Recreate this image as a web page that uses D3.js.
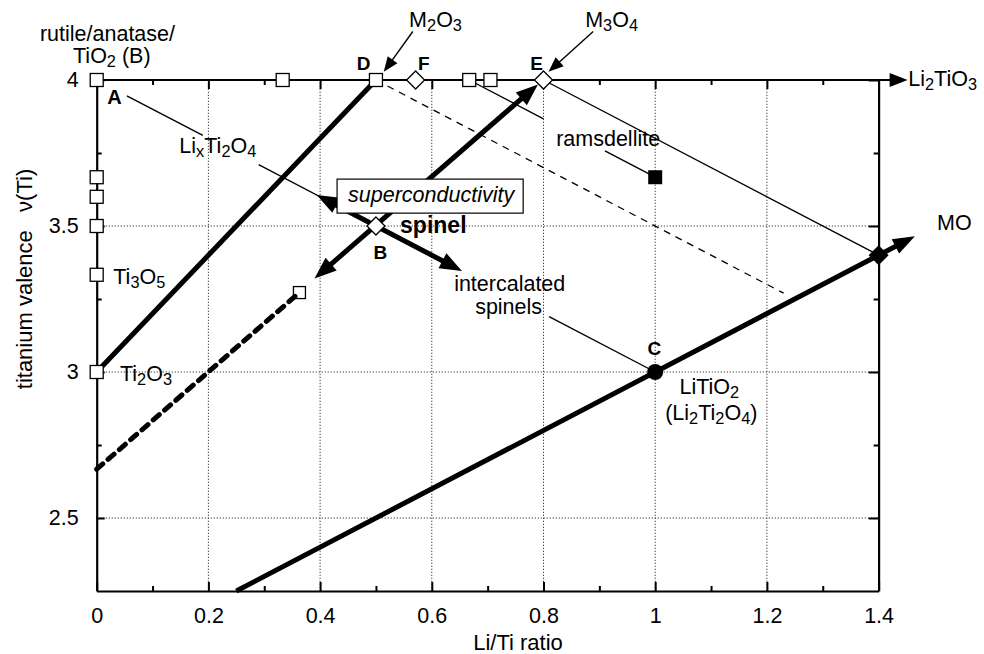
<!DOCTYPE html>
<html><head><meta charset="utf-8">
<script src="https://cdn.jsdelivr.net/npm/d3@7"></script>
<style>body{margin:0;background:#fff} svg text{font-family:"Liberation Sans",Arial,Helvetica,sans-serif;fill:#000}</style>
</head><body><svg id="c" width="984" height="654"></svg>
<script>
// ---------- data ----------
const xTickValues = [0, 0.2, 0.4, 0.6, 0.8, 1, 1.2, 1.4];
const xTickLabels = ["0", "0.2", "0.4", "0.6", "0.8", "1", "1.2", "1.4"];
const xMinorTicks = [0.1, 0.3, 0.5, 0.7, 0.9, 1.1, 1.3];
const yTickValues = [2.5, 3, 3.5, 4];
const yTickLabels = ["2.5", "3", "3.5", "4"];
const yMinorTicks = [2.75, 3.25, 3.75];
const xGrid = [0.2, 0.4, 0.6, 0.8, 1, 1.2];
const yGrid = [2.5, 3, 3.5];

const openSquares = [[0,4],[0,3.667],[0,3.6],[0,3.5],[0,3.333],[0,3],[0.333,4],[0.5,4],[0.667,4],[0.705,4]];
const dottedSquare = [[0.363,3.272]];
const openDiamonds = [[0.571,4],[0.8,4],[0.5,3.5]];
const filledSquares = [[1,3.667]];
const filledDiamonds = [[1.4,3.4]];
const filledCircles = [[1,3]];

const thickLines = [[[0,3],[0.5,4]]];
const thickDashed = [[[0,2.667],[0.363,3.272]]];
const thinLines = [
  [[0.054,3.946],[0.19,3.81]], [[0.29,3.71],[0.5,3.5]],
  [[0.81,3.19],[1,3]], [[0.8,4],[1.4,3.4]],
  [[0.667,4],[0.80,3.867]], [[0.91,3.757],[1,3.667]]
];
const thinDashed = [[[0.5,4],[1.23,3.27]]];
const doubleArrows = [[[0.39,3.32],[0.79,3.985]], [[0.394,3.606],[0.654,3.346]]];
const thickArrows = [[[0.25,2.25],[1.465,3.465]]];
const topLine = [[0,4],[1.452,4]];
const pointerArrows = [[[0.566,4.166],[0.514,4.028]], [[0.889,4.166],[0.809,4.028]]];

// ---------- setup ----------
const svg = d3.select("#c");
const x = d3.scaleLinear([0, 1.4], [96.7, 878.6]);
const y = d3.scaleLinear([2.25, 4], [591, 80]);
const FONT = 21.5;

// grid
const grid = svg.append("g").attr("stroke", "#444").attr("stroke-width", 1).attr("stroke-dasharray", "1.3,1.7");
grid.selectAll(".gx").data(xGrid).join("line")
  .attr("x1", d => x(d)).attr("x2", d => x(d)).attr("y1", y(2.25)).attr("y2", y(4));
grid.selectAll(".gy").data(yGrid).join("line")
  .attr("y1", d => y(d)).attr("y2", d => y(d)).attr("x1", x(0)).attr("x2", x(1.4));

// axes
function styleAxis(g) {
  g.selectAll("path.domain").attr("stroke-width", 2.2);
  g.selectAll(".tick line").attr("stroke-width", 2);
  g.selectAll("text").attr("font-size", FONT).attr("font-family", '"Liberation Sans",Arial,sans-serif');
}
const gB = svg.append("g").attr("transform", `translate(0,${y(2.25)})`)
  .call(d3.axisBottom(x).tickValues(xTickValues).tickFormat((d, i) => xTickLabels[i])
    .tickSizeInner(-9).tickSizeOuter(0).tickPadding(17));
styleAxis(gB);
svg.append("g").attr("transform", `translate(0,${y(2.25)})`)
  .call(d3.axisBottom(x).tickValues(xMinorTicks).tickFormat("").tickSizeInner(-5).tickSizeOuter(0))
  .call(g => g.select(".domain").remove()).call(styleAxis);
const gL = svg.append("g").attr("transform", `translate(${x(0)},0)`)
  .call(d3.axisLeft(y).tickValues(yTickValues).tickFormat((d, i) => yTickLabels[i])
    .tickSizeInner(-8).tickSizeOuter(0).tickPadding(18));
styleAxis(gL);
svg.append("g").attr("transform", `translate(${x(0)},0)`)
  .call(d3.axisLeft(y).tickValues(yMinorTicks).tickFormat("").tickSizeInner(-5).tickSizeOuter(0))
  .call(g => g.select(".domain").remove()).call(styleAxis);
svg.append("g").attr("transform", `translate(${x(1.4)},0)`)
  .call(d3.axisRight(y).tickValues(yTickValues).tickFormat("").tickSizeInner(-10).tickSizeOuter(0)).call(styleAxis);
svg.append("g").attr("transform", `translate(${x(1.4)},0)`)
  .call(d3.axisRight(y).tickValues(yMinorTicks).tickFormat("").tickSizeInner(-5).tickSizeOuter(0))
  .call(g => g.select(".domain").remove()).call(styleAxis);
svg.append("g").attr("transform", `translate(0,${y(4)})`)
  .call(d3.axisTop(x).tickValues(xTickValues.filter(d => d > 0 && d < 1.4)).tickFormat("").tickSizeInner(-9).tickSizeOuter(0))
  .call(g => g.select(".domain").remove()).call(styleAxis);
svg.append("g").attr("transform", `translate(0,${y(4)})`)
  .call(d3.axisTop(x).tickValues(xMinorTicks).tickFormat("").tickSizeInner(-5).tickSizeOuter(0))
  .call(g => g.select(".domain").remove()).call(styleAxis);

// helpers
function arrowHead(g, tip, from, len, wid) {
  const tx = x(tip[0]), ty = y(tip[1]), fx = x(from[0]), fy = y(from[1]);
  const dx = tx - fx, dy = ty - fy, L = Math.hypot(dx, dy), ux = dx / L, uy = dy / L;
  const bx = tx - ux * len, by = ty - uy * len;
  g.append("polygon").attr("points", [
    [tx, ty], [bx - uy * wid / 2, by + ux * wid / 2], [bx + uy * wid / 2, by - ux * wid / 2]
  ].map(p => p.join(",")).join(" ")).attr("fill", "#000");
}
function seg(g, s, w, dash) {
  const l = g.append("line").attr("x1", x(s[0][0])).attr("y1", y(s[0][1]))
    .attr("x2", x(s[1][0])).attr("y2", y(s[1][1])).attr("stroke", "#000").attr("stroke-width", w);
  if (dash) l.attr("stroke-dasharray", dash);
  return l;
}
function shorten(s, px) {
  const x0 = x(s[0][0]), y0 = y(s[0][1]), x1 = x(s[1][0]), y1 = y(s[1][1]);
  const L = Math.hypot(x1 - x0, y1 - y0), t = (L - px) / L;
  return [x.invert(x0 + (x1 - x0) * t), y.invert(y0 + (y1 - y0) * t)];
}

const lines = svg.append("g");
seg(lines, [topLine[0], shorten(topLine, 10)], 2.2);
arrowHead(lines, topLine[1], topLine[0], 18, 14);

thinDashed.forEach(s => seg(lines, s, 1.3, "7,6"));
thinLines.forEach(s => seg(lines, s, 1.4));
thickLines.forEach(s => seg(lines, s, 5));
thickDashed.forEach(s => seg(lines, s, 5, "8,7").attr("stroke-linecap", "round"));
doubleArrows.forEach(s => {
  const a = shorten([s[1], s[0]], 14), b = shorten(s, 14);
  seg(lines, [a, b], 5);
  arrowHead(lines, s[0], s[1], 22, 17);
  arrowHead(lines, s[1], s[0], 22, 17);
});
thickArrows.forEach(s => {
  seg(lines, [s[0], shorten(s, 14)], 5);
  arrowHead(lines, s[1], s[0], 22, 16);
});
pointerArrows.forEach(s => {
  seg(lines, [s[0], shorten(s, 8)], 1.4);
  arrowHead(lines, s[1], s[0], 15, 12);
});

// superconductivity box
svg.append("rect").attr("x", x(0.4304)).attr("y", y(3.6606))
  .attr("width", x(0.7636) - x(0.4304)).attr("height", y(3.5441) - y(3.6606))
  .attr("fill", "#fff").attr("stroke", "#000").attr("stroke-width", 1.2);

// markers
const mk = svg.append("g");
const S = 13;
mk.selectAll(".os").data(openSquares).join("rect")
  .attr("x", d => x(d[0]) - S / 2).attr("y", d => y(d[1]) - S / 2).attr("width", S).attr("height", S)
  .attr("fill", "#fff").attr("stroke", "#000").attr("stroke-width", 1.3);
mk.selectAll(".ds").data(dottedSquare).join("rect")
  .attr("x", d => x(d[0]) - 6).attr("y", d => y(d[1]) - 6).attr("width", 12).attr("height", 12)
  .attr("fill", "none").attr("stroke", "#000").attr("stroke-width", 1.3);
const dia = r => `M0,${-r}L${r},0L0,${r}L${-r},0Z`;
mk.selectAll(".od").data(openDiamonds).join("path")
  .attr("d", dia(9)).attr("transform", d => `translate(${x(d[0])},${y(d[1])})`)
  .attr("fill", "#fff").attr("stroke", "#000").attr("stroke-width", 1.3);
mk.selectAll(".fs").data(filledSquares).join("rect")
  .attr("x", d => x(d[0]) - 7).attr("y", d => y(d[1]) - 7).attr("width", 14).attr("height", 14).attr("fill", "#000");
mk.selectAll(".fd").data(filledDiamonds).join("path")
  .attr("d", dia(10)).attr("transform", d => `translate(${x(d[0])},${y(d[1])})`).attr("fill", "#000");
mk.selectAll(".fc").data(filledCircles).join("circle")
  .attr("cx", d => x(d[0])).attr("cy", d => y(d[1])).attr("r", 8).attr("fill", "#000");

// text labels
function rich(g, str, px, py, opts = {}) {
  const fs = opts.size || FONT;
  const t = g.append("text").attr("x", px).attr("y", py).attr("font-size", fs);
  if (opts.weight) t.attr("font-weight", opts.weight);
  if (opts.style) t.attr("font-style", opts.style);
  const parts = str.split(/(_\{[^}]*\}|_.)/).filter(s => s.length);
  let down = false;
  parts.forEach(p => {
    if (p[0] === "_") {
      const txt = p[1] === "{" ? p.slice(2, -1) : p.slice(1);
      t.append("tspan").attr("dy", down ? 0 : 4).attr("font-size", fs * 0.76).text(txt);
      down = true;
    } else {
      t.append("tspan").attr("dy", down ? -4 : 0).text(p);
      down = false;
    }
  });
  return t;
}
const lab = svg.append("g");
const labels = [
  ["rutile/anatase/", -0.1016, 4.1337, {}],
  ["TiO_2 (B)", -0.0424, 4.0583, {}],
  ["A", 0.019, 3.9177, {weight: "bold", size: 20}],
  ["D", 0.4657, 4.0343, {weight: "bold", size: 19}],
  ["F", 0.5755, 4.0343, {weight: "bold", size: 19}],
  ["E", 0.7762, 4.0343, {weight: "bold", size: 19}],
  ["M_2O_3", 0.5594, 4.1817, {}],
  ["M_3O_4", 0.8746, 4.1817, {}],
  ["Li_2TiO_3", 1.4531, 3.9794, {}],
  ["Li_xTi_2O_4", 0.148, 3.7497, {}],
  ["Ti_3O_5", 0.0297, 3.3007, {}],
  ["Ti_2O_3", 0.0417, 2.9681, {}],
  ["superconductivity", 0.4501, 3.5818, {style: "italic"}],
  ["spinel", 0.5432, 3.4755, {weight: "bold", size: 23}],
  ["B", 0.4954, 3.3853, {weight: "bold", size: 19}],
  ["intercalated", 0.64, 3.279, {}],
  ["spinels", 0.6776, 3.197, {}],
  ["C", 0.9862, 3.0573, {weight: "bold", size: 19}],
  ["LiTiO_2", 1.0435, 2.924, {}],
  ["(Li_2Ti_2O_4)", 1.0179, 2.836, {}],
  ["ramsdellite", 0.8227, 3.7737, {}],
  ["MO", 1.5046, 3.4858, {}]
];
labels.forEach(l => rich(lab, l[0], x(l[1]), y(l[2]), l[3]));

// axis titles
svg.append("text").attr("x", 518).attr("y", 650).attr("text-anchor", "middle")
  .attr("font-size", 22).text("Li/Ti ratio");
svg.append("text").attr("transform", `translate(32,279) rotate(-90)`).attr("text-anchor", "middle")
  .attr("font-size", 22).style("white-space", "pre").text("titanium valence   ν(Ti)");
</script></body></html>
